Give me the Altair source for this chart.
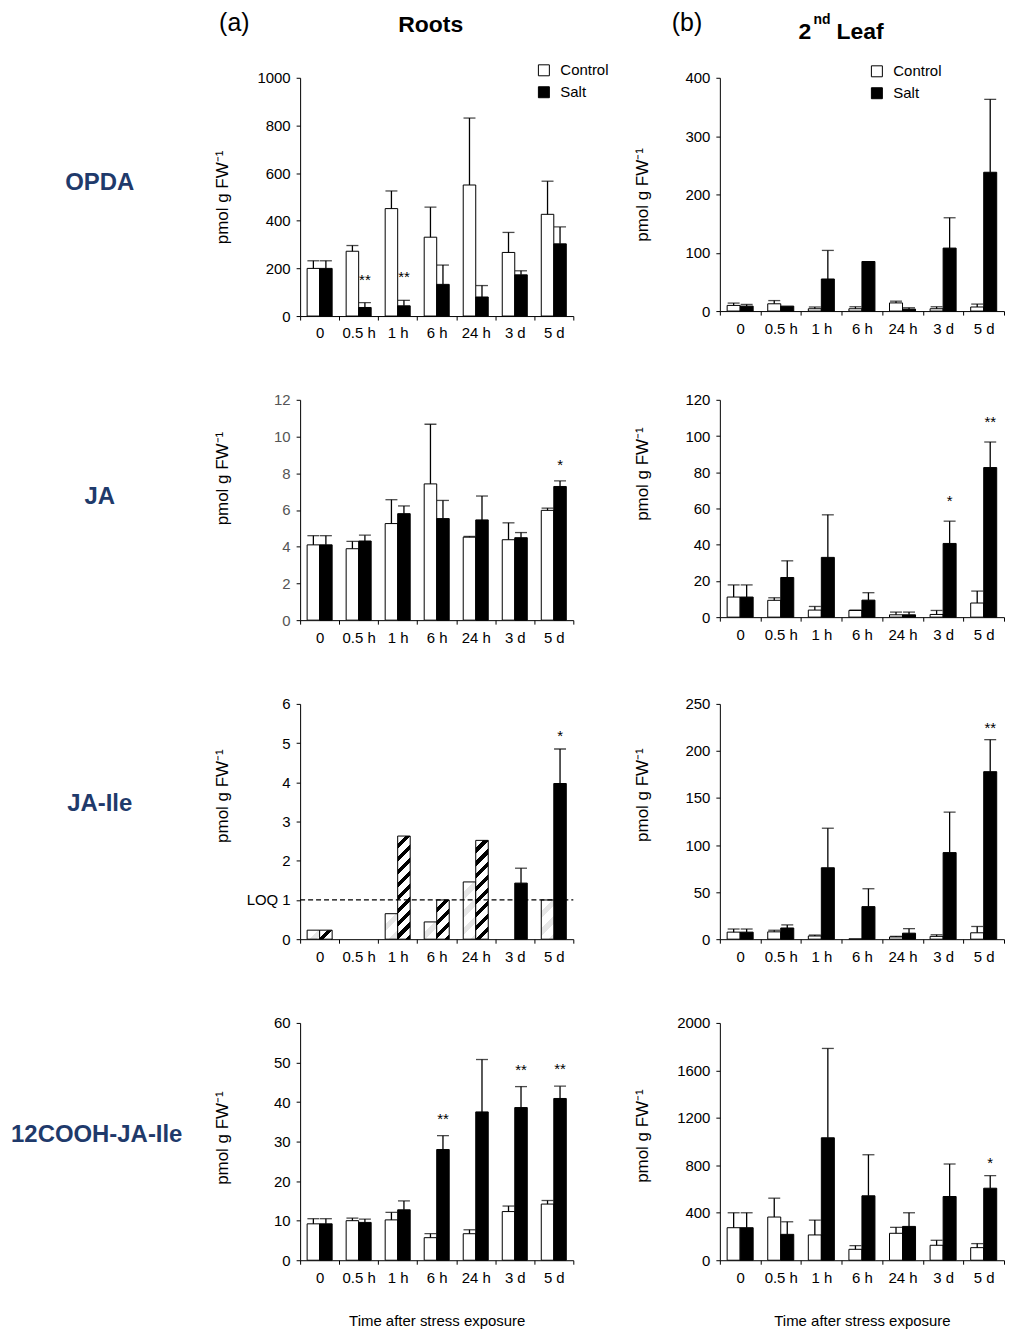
import altair as alt
import pandas as pd

times = ["0", "0.5 h", "1 h", "6 h", "24 h", "3 d", "5 d"]
series = ["Control", "Salt"]

# ---- OPDA ----
opda_r_ctrl = [200, 272, 451, 331, 550, 267, 427]
opda_r_ctrl_err = [32, 24, 74, 126, 281, 84, 139]
opda_r_salt = [200, 36, 43, 133, 80, 173, 303]
opda_r_salt_err = [32, 20, 23, 81, 48, 17, 71]
opda_r_stars = ["", "**", "**", "", "", "", ""]

opda_l_ctrl = [9.7, 12.5, 4, 4, 14, 4, 7]
opda_l_ctrl_err = [4, 5.5, 3, 3.4, 3, 3.4, 5]
opda_l_salt = [8.5, 8.5, 55, 85, 3.4, 108, 238]
opda_l_salt_err = [2.9, 0, 49, 0, 2.3, 52, 125]
opda_l_stars = ["", "", "", "", "", "", ""]

# ---- JA ----
ja_r_ctrl = [4.1, 3.89, 5.26, 7.42, 4.52, 4.38, 5.98]
ja_r_ctrl_err = [0.5, 0.4, 1.3, 3.25, 0.04, 0.92, 0.12]
ja_r_salt = [4.1, 4.31, 5.8, 5.53, 5.46, 4.49, 7.28]
ja_r_salt_err = [0.5, 0.32, 0.42, 0.99, 1.3, 0.28, 0.3]
ja_r_stars = ["", "", "", "", "", "", "*"]

ja_l_ctrl = [11.1, 9.3, 3.9, 3.7, 1.3, 1.5, 7.8]
ja_l_ctrl_err = [6.7, 1.4, 2.0, 0.2, 1.5, 2.2, 6.6]
ja_l_salt = [11.1, 21.9, 33, 9.4, 1.3, 40.7, 82.6]
ja_l_salt_err = [6.7, 9.2, 23.5, 4.1, 1.5, 12.3, 14.1]
ja_l_stars = ["", "", "", "", "", "*", "**"]

# ---- JA-Ile ----
jaile_r_ctrl = [0.23, 0, 0.65, 0.44, 1.46, 0, 1.0]
jaile_r_ctrl_err = [0, 0, 0, 0, 0, 0, 0]
jaile_r_salt = [0.23, 0, 2.63, 1.0, 2.52, 1.43, 3.97]
jaile_r_salt_err = [0, 0, 0, 0, 0, 0.38, 0.88]
jaile_r_stars = ["", "", "", "", "", "", "*"]
jaile_r_ctrl_pattern = ["light", "none", "light", "light", "light", "none", "light"]
jaile_r_salt_pattern = ["hatch", "none", "hatch", "hatch", "hatch", "solid", "solid"]
loq_value = [1]

jaile_l_ctrl = [7.5, 7.8, 3.4, 0.3, 2.4, 3.0, 6.8]
jaile_l_ctrl_err = [3.3, 1.7, 1.0, 0, 0.6, 1.7, 6.7]
jaile_l_salt = [7.5, 11.9, 75.9, 34.6, 6.4, 92, 178]
jaile_l_salt_err = [3.3, 3.3, 42, 19, 4.8, 43, 34]
jaile_l_stars = ["", "", "", "", "", "", "**"]

# ---- 12COOH-JA-Ile ----
cooh_r_ctrl = [9.2, 10.0, 10.2, 5.7, 6.7, 12.3, 14.2]
cooh_r_ctrl_err = [1.3, 0.65, 1.9, 1.0, 1.0, 1.4, 0.9]
cooh_r_salt = [9.2, 9.56, 12.75, 28, 37.5, 38.6, 40.9]
cooh_r_salt_err = [1.3, 0.84, 2.25, 3.5, 13.25, 5.3, 3.1]
cooh_r_stars = ["", "", "", "**", "", "**", "**"]

cooh_l_ctrl = [274, 364, 213, 92, 227, 126, 106]
cooh_l_ctrl_err = [126, 159, 125, 31, 50, 42, 34]
cooh_l_salt = [274, 218, 1032, 543, 285, 537, 607]
cooh_l_salt_err = [126, 106, 753, 346, 115, 274, 106]
cooh_l_stars = ["", "", "", "", "", "", "*"]

row_labels = ["OPDA", "JA", "JA-Ile", "12COOH-JA-Ile"]
ytitle = "pmol g FW\u207b\u00b9"
xtitle = "Time after stress exposure"

FONT = "Liberation Sans"
NAVY = "#1f3a6b"
W_R, W_L = 274, 285
OFF_PAD = 0.56
dummy = pd.DataFrame({"a": [0]})


def txt(s, x, y, size, bold=False, color="black", align="center", baseline="alphabetic"):
    return alt.Chart(dummy).mark_text(
        text=s, font=FONT, fontSize=size, fontWeight="bold" if bold else "normal",
        color=color, align=align, baseline=baseline
    ).encode(x=alt.value(x), y=alt.value(y))


def hatch(w, h, period, frac, bg, fg):
    total = w + h
    k = total / (w * w + h * h)
    stops = []
    i = 0
    while i * period < total:
        o0 = min(1.0, i * period / total)
        om = min(1.0, (i + 1 - frac) * period / total)
        o1 = min(1.0, (i + 1) * period / total)
        stops += [(o0, bg), (om, bg), (om, fg), (o1, fg)]
        i += 1
    return alt.LinearGradient(
        gradient="linear", x1=0, y1=0, x2=w * k, y2=h * k,
        stops=[alt.GradientStop(offset=o, color=c) for o, c in stops])


def y_axis_for(ymax, ystep, h, title_dy, label_color="black"):
    return alt.Axis(values=list(range(0, ymax + 1, ystep)), format="d", title=ytitle,
                    titleX=-78, titleY=h / 2 + title_dy, titleAngle=270,
                    titleAlign="center", titleBaseline="middle", labelColor=label_color)


def panel(ctrl, ctrl_err, salt, salt_err, stars, ymax, ystep, w, h, title_dy, star_off,
          label_color="black", legend=None, show_xtitle=False, patterns=None, extra=None):
    df = pd.DataFrame({
        "time": times * 2,
        "series": ["Control"] * 7 + ["Salt"] * 7,
        "value": ctrl + salt,
        "err": ctrl_err + salt_err,
        "star": [""] * 7 + stars,
        "pattern": (patterns[0] + patterns[1]) if patterns else ["solid"] * 14,
    })
    x_enc = alt.X("time:N", sort=times,
                  scale=alt.Scale(domain=times, paddingInner=0, paddingOuter=0),
                  axis=alt.Axis(title=xtitle if show_xtitle else None, labelAngle=0,
                                tickBand="extent", titleY=60, titleBaseline="middle",
                                titleFontSize=15, labelFontSize=15))
    xo = alt.XOffset("series:N", sort=series,
                     scale=alt.Scale(domain=series, paddingInner=0, paddingOuter=OFF_PAD))
    y_axis = y_axis_for(ymax, ystep, h, title_dy, label_color)
    y_scale = alt.Scale(domain=[0, ymax], nice=False)

    def Y(f):
        return alt.Y(f, scale=y_scale, axis=y_axis)

    base = alt.Chart(df).transform_calculate(hi="datum.value + datum.err")
    fill = alt.Fill("series:N", scale=alt.Scale(domain=series, range=["white", "black"]),
                    legend=legend)
    bars = base.transform_filter("datum.value > 0 && datum.pattern == 'solid'").mark_bar(
        stroke="black", strokeWidth=1).encode(x=x_enc, xOffset=xo, y=Y("value:Q"), fill=fill)
    layers = [bars]
    if patterns:
        bw = (w / 7) / (2 + 2 * OFF_PAD)
        for s, vals, pats in (("Control", ctrl, patterns[0]), ("Salt", salt, patterns[1])):
            for t, v, p in zip(times, vals, pats):
                if p not in ("light", "hatch") or v <= 0:
                    continue
                bh = v / ymax * h
                if p == "hatch":
                    g = hatch(bw, bh, 13, 0.42, "white", "black")
                else:
                    g = hatch(bw, bh, 18, 0.4, "white", "#e6e6e6")
                layers.append(
                    base.transform_filter(
                        f"datum.time == '{t}' && datum.series == '{s}'"
                    ).mark_bar(fill=g, stroke="black", strokeWidth=1).encode(
                        x=x_enc, xOffset=xo, y=Y("value:Q")))
    errs = base.transform_filter("datum.err > 0")
    layers.append(errs.mark_rule(color="black", strokeWidth=1.3).encode(
        x=x_enc, xOffset=xo, y=Y("value:Q"), y2="hi:Q"))
    layers.append(errs.mark_tick(color="black", thickness=1.3, size=12).encode(
        x=x_enc, xOffset=xo, y=Y("hi:Q")))
    layers.append(base.transform_filter("datum.star != ''").mark_text(
        fontSize=15, font=FONT, baseline="alphabetic", dy=-(star_off - 8), color="black"
    ).encode(x=x_enc, xOffset=xo, y=Y("hi:Q"), text="star:N"))
    if extra:
        layers += extra
    return alt.layer(*layers).properties(width=w, height=h)


def legend_at(x, y):
    return alt.Legend(orient="none", legendX=x, legendY=y, title=None, symbolType="square",
                      symbolSize=121, symbolStrokeColor="black", symbolStrokeWidth=1,
                      labelFontSize=15, labelFont=FONT, labelColor="black", rowPadding=6,
                      padding=0, labelOffset=9, direction="vertical")


H = [239, 221, 236, 238]
HL = [234, 218, 236, 238]

anchor = alt.Chart(dummy).mark_rule(color="white", strokeWidth=0.1).encode(
    x=alt.value(-292), x2=alt.value(-291), y=alt.value(-70))

# Row 1
r1_extra = [anchor,
            txt(row_labels[0], -201, 106, 24, bold=True, color=NAVY, baseline="middle"),
            txt("(a)", -66, -47, 25),
            txt("Roots", 131, -46, 23, bold=True)]
c11 = panel(opda_r_ctrl, opda_r_ctrl_err, opda_r_salt, opda_r_salt_err, opda_r_stars,
            1000, 200, W_R, H[0], 0, 26, legend=legend_at(237, -15), extra=r1_extra)
l1_extra = [txt("(b)", -33, -47, 25),
            txt("2", 79, -39, 23, bold=True, align="left"),
            txt("nd", 94, -54, 14, bold=True, align="left"),
            txt("Leaf", 117, -39, 23, bold=True, align="left")]
c12 = panel(opda_l_ctrl, opda_l_ctrl_err, opda_l_salt, opda_l_salt_err, opda_l_stars,
            400, 100, W_L, HL[0], 0, 20, legend=legend_at(150, -14), extra=l1_extra)

# Row 2
c21 = panel(ja_r_ctrl, ja_r_ctrl_err, ja_r_salt, ja_r_salt_err, ja_r_stars,
            12, 2, W_R, H[1], -32, 19, label_color="#555555",
            extra=[txt(row_labels[1], -201, 98, 24, bold=True, color=NAVY, baseline="middle")])
c22 = panel(ja_l_ctrl, ja_l_ctrl_err, ja_l_salt, ja_l_salt_err, ja_l_stars,
            120, 20, W_L, HL[1], -35, 23)

# Row 3
loq_df = pd.DataFrame({"loq": loq_value})
loq_y = alt.Y("loq:Q", scale=alt.Scale(domain=[0, 6], nice=False),
              axis=y_axis_for(6, 1, H[2], -26))
loq_rule = alt.Chart(loq_df).mark_rule(color="black", strokeWidth=1.2, strokeDash=[5, 3]).encode(
    x=alt.value(0), x2=alt.value(W_R), y=loq_y)
loq_text = alt.Chart(loq_df).mark_text(text="LOQ", font=FONT, fontSize=15, align="right",
                                       baseline="middle", color="black").encode(
    x=alt.value(-22), y=loq_y)
c31 = panel(jaile_r_ctrl, jaile_r_ctrl_err, jaile_r_salt, jaile_r_salt_err, jaile_r_stars,
            6, 1, W_R, H[2], -26, 16,
            patterns=(jaile_r_ctrl_pattern, jaile_r_salt_pattern),
            extra=[loq_rule, loq_text,
                   txt(row_labels[2], -201, 100, 24, bold=True, color=NAVY, baseline="middle")])
c32 = panel(jaile_l_ctrl, jaile_l_ctrl_err, jaile_l_salt, jaile_l_salt_err, jaile_l_stars,
            250, 50, W_L, HL[2], -27, 15)

# Row 4
c41 = panel(cooh_r_ctrl, cooh_r_ctrl_err, cooh_r_salt, cooh_r_salt_err, cooh_r_stars,
            60, 10, W_R, H[3], -4, 20, show_xtitle=True,
            extra=[txt(row_labels[3], -204, 112, 24, bold=True, color=NAVY, baseline="middle")])
c42 = panel(cooh_l_ctrl, cooh_l_ctrl_err, cooh_l_salt, cooh_l_salt_err, cooh_l_stars,
            2000, 400, W_L, HL[3], -6, 16, show_xtitle=True)

chart = alt.concat(c11, c12, c21, c22, c31, c32, c41, c42, columns=2,
                   spacing={"row": 84, "column": 147}, bounds="flush").resolve_scale(
    x="independent", y="independent", xOffset="independent", fill="independent"
).resolve_legend(fill="independent").properties(
    padding={"left": 0, "top": -3, "right": 0, "bottom": 0}
).configure(font=FONT).configure_view(stroke=None).configure_axis(
    domainColor="black", tickColor="black", labelFont=FONT, titleFont=FONT,
    labelFontSize=15, titleFontSize=17, titleFontWeight="normal", titleColor="black",
    labelColor="black", grid=False, tickSize=4, labelPadding=6, domainWidth=1, tickWidth=1
)

chart.save("out.html", embed_options={"renderer": "svg", "actions": False})
